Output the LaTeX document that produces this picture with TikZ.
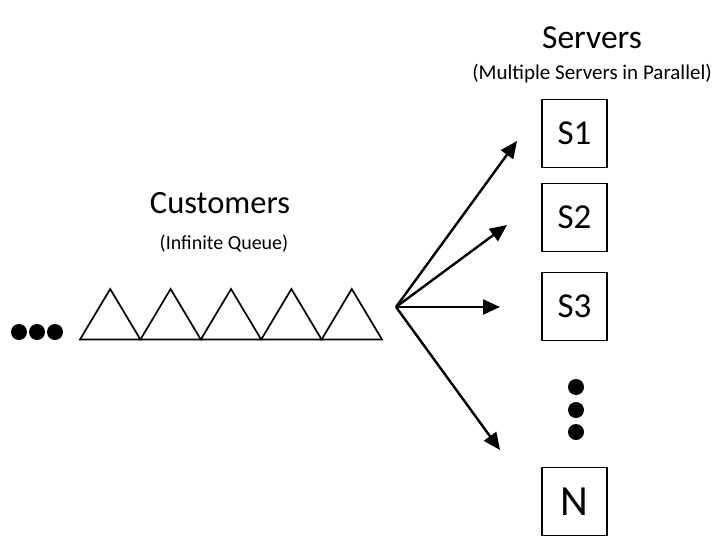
\documentclass[tikz,border=0pt]{standalone}
\usepackage{fontspec}
\setmainfont{Carlito}
\usetikzlibrary{arrows.meta}
\begin{document}
\begin{tikzpicture}[x=1pt,y=-1pt,
  cust/.style={draw=black,line width=1.7pt,line join=miter},
  srv/.style={draw=black,line width=1.3pt,minimum width=65pt,minimum height=68pt,inner sep=0pt,font=\fontsize{35}{38}\selectfont},
  flow/.style={line width=2.4pt,-{Triangle[length=17pt,width=15pt]}},
  dot/.style={circle,fill=black,minimum size=16pt,inner sep=0pt},
  title/.style={font=\fontsize{32.5}{36}\selectfont},
  sub/.style={font=\fontsize{20}{24}\selectfont}]
\useasboundingbox (0,0) rectangle (718,536);
% customers
\node[title] (cust) at (220,203) {Customers};
\node[sub] (custsub) at (224,244) {(Infinite Queue)};
\foreach \i in {0,...,4}{
  \draw[cust] ({80+60.4*\i},339.5) -- ({110.2+60.4*\i},289) -- ({140.4+60.4*\i},339.5) -- cycle;
}
\node[dot] (d1) at (19,332) {};
\node[dot] (d2) at (37,332) {};
\node[dot] (d3) at (55,332) {};
% servers
\node[title,font=\fontsize{33.5}{36}\selectfont] (srvt) at (592,38) {Servers};
\node[sub,font=\fontsize{21}{24}\selectfont] (srvsub) at (592,74) {(Multiple Servers in Parallel)};
\node[srv] (s1) at (574.5,133.5) {S1};
\node[srv] (s2) at (574.5,217.5) {S2};
\node[srv] (s3) at (574.5,306.5) {S3};
\node[srv,font=\fontsize{43}{45}\selectfont] (sn) at (574.5,501.5) {N};
\node[dot] (v1) at (576,387) {};
\node[dot] (v2) at (576,410) {};
\node[dot] (v3) at (576,432) {};
% arrows
\coordinate (o) at (396,307);
\coordinate (t1) at (517,141);
\coordinate (t2) at (507,225);
\coordinate (t3) at (500,307);
\coordinate (tn) at (500,450);
\draw[flow] (o) -- (t1);
\draw[flow] (o) -- (t2);
\draw[flow] (o) -- (t3);
\draw[flow] (o) -- (tn);
\end{tikzpicture}
\end{document}
